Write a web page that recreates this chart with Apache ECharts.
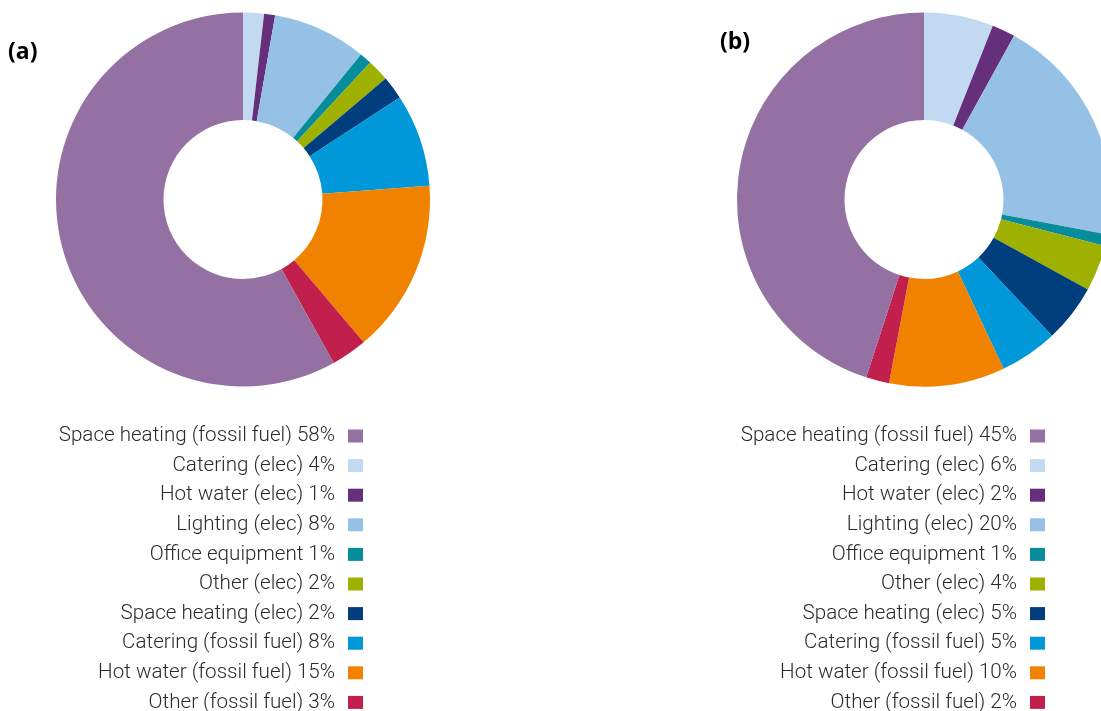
<!DOCTYPE html>
<html>
<head>
<meta charset="utf-8">
<style>
  html, body { margin: 0; padding: 0; background: #ffffff; }
  #chart { width: 1101px; height: 711px; }
</style>
<script src="https://cdn.jsdelivr.net/npm/echarts@6/dist/echarts.min.js"></script>
</head>
<body>
<div id="chart"></div>
<script>
// Categories in legend order
var categories = [
  'Space heating (fossil fuel)',
  'Catering (elec)',
  'Hot water (elec)',
  'Lighting (elec)',
  'Office equipment',
  'Other (elec)',
  'Space heating (elec)',
  'Catering (fossil fuel)',
  'Hot water (fossil fuel)',
  'Other (fossil fuel)'
];
var colors = ['#9470A3', '#C2D9F2', '#662F7B', '#96C1E7', '#078C9C',
              '#9FB100', '#003E7D', '#0098D8', '#F08200', '#C2204C'];

// Slice sizes read from the drawn wedges (percent)
var sliceValuesA = [58.0, 1.8, 0.95, 8.1, 1.05, 1.9, 2.0, 8.0, 15.0, 3.1];
var sliceValuesB = [45, 6, 2, 20, 1, 4, 5, 5, 10, 2];

// Percent text printed in the legends
var legendPctA = ['58%', '4%', '1%', '8%', '1%', '2%', '2%', '8%', '15%', '3%'];
var legendPctB = ['45%', '6%', '2%', '20%', '1%', '4%', '5%', '5%', '10%', '2%'];

var panelLabels = ['(a)', '(b)'];

// clockwise from the top: every category after the first, then the first
var pieOrder = [1, 2, 3, 4, 5, 6, 7, 8, 9, 0];

function pieData(values) {
  return pieOrder.map(function (i) {
    return { name: categories[i], value: values[i], itemStyle: { color: colors[i] } };
  });
}

function makeLegend(pcts, rightPx) {
  return {
    orient: 'vertical',
    right: rightPx,
    top: 425,
    height: 400,
    padding: 0,
    align: 'right',
    itemWidth: 15,
    itemHeight: 13,
    itemGap: 7.6,
    icon: 'rect',
    selectedMode: false,
    data: categories.map(function (c, i) { return { name: c, itemStyle: { color: colors[i] } }; }),
    formatter: function (name) {
      var i = categories.indexOf(name);
      return '{t|' + name + ' ' + pcts[i] + '}';
    },
    textStyle: {
      rich: {
        t: {
          width: 320,
          align: 'right',
          fontFamily: 'Roboto, "Liberation Sans", Arial, sans-serif',
          fontWeight: 300,
          fontSize: 20.6,
          lineHeight: 22,
          height: 22,
          color: '#2a2a2a',
          padding: [0, 8, 0, 0]
        }
      }
    }
  };
}

var chart = echarts.init(document.getElementById('chart'), null, { renderer: 'canvas' });
chart.setOption({
  animation: false,
  backgroundColor: '#ffffff',
  title: [
    { text: panelLabels[0], left: 8, top: 41, padding: 0,
      textStyle: { fontFamily: '"Open Sans", "Liberation Sans", sans-serif', fontWeight: 'bold', fontSize: 23, color: '#000' } },
    { text: panelLabels[1], left: 720, top: 31, padding: 0,
      textStyle: { fontFamily: '"Open Sans", "Liberation Sans", sans-serif', fontWeight: 'bold', fontSize: 23, color: '#000' } }
  ],
  legend: [ makeLegend(legendPctA, 1101 - 363), makeLegend(legendPctB, 1101 - 1045) ],
  series: [
    {
      type: 'pie',
      center: [243, 199.5],
      radius: [79.5, 187],
      startAngle: 90,
      clockwise: true,
      label: { show: false },
      labelLine: { show: false },
      itemStyle: { borderWidth: 0 },
      emphasis: { disabled: true },
      data: pieData(sliceValuesA)
    },
    {
      type: 'pie',
      center: [924, 199.5],
      radius: [79.5, 187],
      startAngle: 90,
      clockwise: true,
      label: { show: false },
      labelLine: { show: false },
      itemStyle: { borderWidth: 0 },
      emphasis: { disabled: true },
      data: pieData(sliceValuesB)
    }
  ]
});
</script>
</body>
</html>
